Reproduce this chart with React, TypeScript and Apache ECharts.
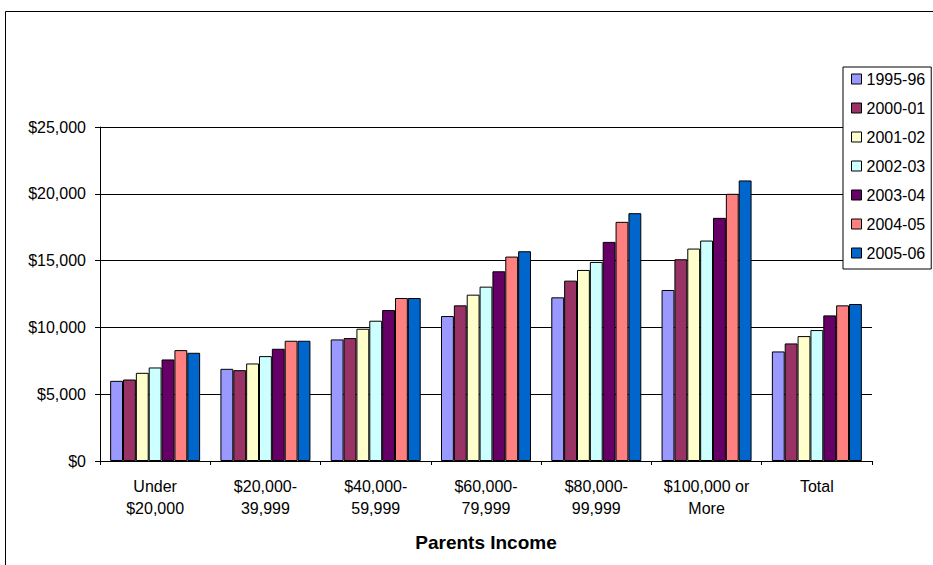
import React, { useEffect, useRef } from "react";
import * as echarts from "echarts";

// Income brackets on the category axis
const categories = [
  "Under\n$20,000",
  "$20,000-\n39,999",
  "$40,000-\n59,999",
  "$60,000-\n79,999",
  "$80,000-\n99,999",
  "$100,000 or\nMore",
  "Total",
];

// Academic years, one series each
const years = ["1995-96", "2000-01", "2001-02", "2002-03", "2003-04", "2004-05", "2005-06"];

const v1995 = [6000, 6900, 9100, 10850, 12250, 12800, 8200];
const v2000 = [6100, 6800, 9200, 11650, 13500, 15100, 8800];
const v2001 = [6600, 7300, 9900, 12450, 14300, 15900, 9350];
const v2002 = [7000, 7850, 10500, 13050, 14900, 16500, 9800];
const v2003 = [7600, 8400, 11300, 14200, 16400, 18200, 10900];
const v2004 = [8300, 9000, 12200, 15300, 17900, 20000, 11650];
const v2005 = [8100, 9000, 12200, 15700, 18550, 21000, 11750];

const seriesValues = [v1995, v2000, v2001, v2002, v2003, v2004, v2005];

const colors = ["#9999FF", "#993366", "#FFFFCC", "#CCFFFF", "#660066", "#FF8080", "#0066CC"];

const FONT = "'Liberation Sans', Arial, sans-serif";

export default function App() {
  const ref = useRef<HTMLDivElement>(null);

  useEffect(() => {
    if (!ref.current) return;
    const chart = echarts.init(ref.current, undefined, { renderer: "svg" });

    chart.setOption({
      animation: false,
      backgroundColor: "#ffffff",
      textStyle: { fontFamily: FONT, color: "#000" },
      grid: { left: 100, right: 61, top: 127, bottom: 104, containLabel: false },
      legend: {
        orient: "vertical",
        left: 843,
        top: 67,
        padding: [4, 6, 8, 8],
        itemGap: 13,
        itemWidth: 10,
        itemHeight: 10,
        icon: "rect",
        borderColor: "#000",
        borderWidth: 1,
        backgroundColor: "#fff",
        itemStyle: { borderColor: "#000", borderWidth: 1 },
        textStyle: { fontFamily: FONT, fontSize: 16, lineHeight: 16, color: "#000" },
        data: years,
      },
      xAxis: {
        type: "category",
        data: categories,
        name: "Parents Income",
        nameLocation: "middle",
        nameGap: 72,
        nameTextStyle: { fontFamily: FONT, fontSize: 19, fontWeight: "bold", color: "#000" },
        axisLine: { show: true, lineStyle: { color: "#000", width: 1 } },
        axisTick: { show: true, length: 4, interval: 0, lineStyle: { color: "#000" } },
        axisLabel: {
          interval: 0,
          margin: 14,
          fontFamily: FONT,
          fontSize: 16,
          lineHeight: 22,
          color: "#000",
        },
        splitLine: { show: false },
      },
      yAxis: {
        type: "value",
        min: 0,
        max: 25000,
        interval: 5000,
        axisLine: { show: true, lineStyle: { color: "#000", width: 1 } },
        axisTick: { show: true, length: 5, lineStyle: { color: "#000" } },
        axisLabel: {
          margin: 14,
          fontFamily: FONT,
          fontSize: 16,
          color: "#000",
          formatter: (v: number) => "$" + v.toLocaleString("en-US"),
        },
        splitLine: { show: true, lineStyle: { color: "#000", width: 1 } },
      },
      series: years.map((y, i) => ({
        name: y,
        type: "bar",
        data: seriesValues[i],
        barGap: "0%",
        barCategoryGap: "18.4%",
        itemStyle: { color: colors[i], borderColor: "#000", borderWidth: 1 },
      })),
      graphic: [
        {
          type: "polyline",
          shape: { points: [[5.5, 565], [5.5, 11.5], [933, 11.5]] },
          style: { stroke: "#000", lineWidth: 1, fill: "none" },
          silent: true,
        },
      ],
    });

    return () => chart.dispose();
  }, []);

  return (
    <div
      ref={ref}
      style={{ position: "fixed", left: 0, top: 0, width: 933, height: 565, background: "#fff" }}
    />
  );
}
